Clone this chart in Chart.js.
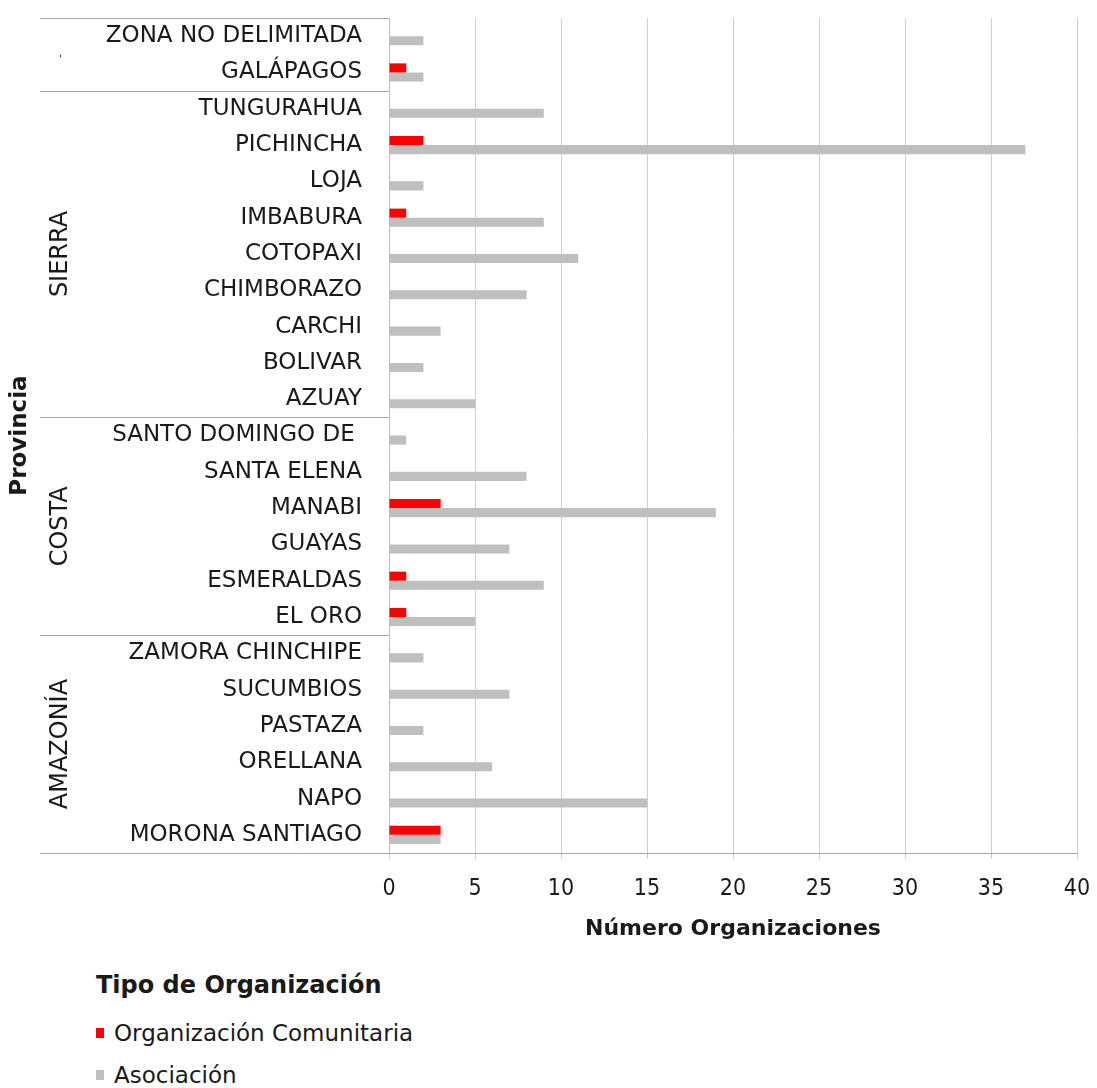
<!DOCTYPE html>
<html>
<head>
<meta charset="utf-8">
<script src="https://cdn.jsdelivr.net/npm/chart.js@4.4.1/dist/chart.umd.min.js"></script>
<style>
  html, body { margin: 0; padding: 0; background: #fff; }
  body { width: 1097px; height: 1088px; position: relative; overflow: hidden;
         font-family: "DejaVu Sans", sans-serif; color: #1a1a1a; }
  #wrap { position: absolute; left: 0; top: 0; width: 1097px; height: 953px; }
  #legend { position: absolute; left: 96px; top: 967px; }
  #legend .title { font-weight: bold; font-size: 24px; line-height: 36px; margin-bottom: 16px; }
  #legend .item { font-size: 23px; line-height: 28px; margin-bottom: 14px; display: flex; align-items: center; }
  #legend .sw { width: 8px; height: 10px; display: inline-block; margin-right: 10px; }
</style>
</head>
<body>
<div id="wrap"><canvas id="c" width="1097" height="953"></canvas></div>
<div id="legend"></div>
<script>
const categories = ["ZONA NO DELIMITADA","GALÁPAGOS","TUNGURAHUA","PICHINCHA","LOJA","IMBABURA","COTOPAXI","CHIMBORAZO","CARCHI","BOLIVAR","AZUAY","SANTO DOMINGO DE ","SANTA ELENA","MANABI","GUAYAS","ESMERALDAS","EL ORO","ZAMORA CHINCHIPE","SUCUMBIOS","PASTAZA","ORELLANA","NAPO","MORONA SANTIAGO"];
const comunitaria = [0,1,0,2,0,1,0,0,0,0,0,0,0,3,0,1,1,0,0,0,0,0,3];
const asociacion  = [2,2,9,37,2,9,11,8,3,2,5,1,8,19,7,9,5,2,7,2,6,15,3];
const groupNames = ["-","SIERRA","COSTA","AMAZONÍA"];
const groupSizes = [2,9,6,6];
const seriesNames = ["Organización Comunitaria","Asociación"];
const seriesColors = ["#ff0000","#bfbfbf"];
const xTicks = [0,5,10,15,20,25,30,35,40];

const FONT = '"DejaVu Sans", sans-serif';
const FONT_C = '"DejaVu Sans Condensed", "DejaVu Sans", sans-serif';

const groupPlugin = {
  id: 'groups',
  afterDraw(chart) {
    const ctx = chart.ctx;
    const y = chart.scales.y;
    const area = chart.chartArea;
    const lineLeft = 40;
    const half = (y.getPixelForValue(1) - y.getPixelForValue(0)) / 2;
    ctx.save();
    ctx.strokeStyle = '#a6a6a6';
    ctx.lineWidth = 1;
    let idx = 0;
    const bounds = [y.getPixelForValue(0) - half];
    for (const n of groupSizes) { idx += n; bounds.push(y.getPixelForValue(idx - 1) + half); }
    bounds.forEach((b, i) => {
      ctx.beginPath();
      ctx.moveTo(lineLeft, Math.round(b) + 0.5);
      ctx.lineTo(i === bounds.length - 1 ? area.right : area.left, Math.round(b) + 0.5);
      ctx.stroke();
    });
    ctx.fillStyle = '#1a1a1a';
    ctx.textAlign = 'center';
    ctx.textBaseline = 'middle';
    groupNames.forEach((g, i) => {
      const cy = (bounds[i] + bounds[i + 1]) / 2;
      ctx.save();
      ctx.translate(i === 0 ? 60 : 61, i === 0 ? bounds[0] + 38 : cy);
      ctx.rotate(-Math.PI / 2);
      ctx.font = (i === 0 ? '10px ' : '24px ') + FONT;
      ctx.fillText(g, 0, 0);
      ctx.restore();
    });
    ctx.restore();
  }
};

new Chart(document.getElementById('c'), {
  type: 'bar',
  data: {
    labels: categories,
    datasets: [
      { label: seriesNames[0], data: comunitaria, backgroundColor: seriesColors[0] },
      { label: seriesNames[1], data: asociacion, backgroundColor: seriesColors[1] }
    ]
  },
  options: {
    indexAxis: 'y',
    responsive: false,
    animation: false,
    devicePixelRatio: 1,
    categoryPercentage: 0.5,
    barPercentage: 1.0,
    layout: { padding: { top: 18, right: 20, left: 0, bottom: 0 } },
    plugins: { legend: { display: false }, tooltip: { enabled: false } },
    scales: {
      x: {
        min: 0, max: 40,
        afterFit(s) { s.height = 100; s.paddingLeft = 0; s.paddingRight = 0; },
        afterBuildTicks(s) { s.ticks = xTicks.map(v => ({ value: v })); },
        grid: { color: '#cfcfcf', tickLength: 6 },
        border: { color: '#a6a6a6' },
        ticks: { font: { family: FONT_C, size: 23 }, color: '#1a1a1a', padding: 16, maxRotation: 0 },
        title: { display: true, text: 'Número Organizaciones', font: { family: FONT, size: 22, weight: 'bold' }, color: '#1a1a1a', padding: { top: 0, bottom: 11 } }
      },
      y: {
        afterFit(s) { s.width = 389; s.paddingTop = 0; s.paddingBottom = 0; },
        grid: { display: false, drawTicks: false },
        border: { display: true, color: '#bdbdbd' },
        ticks: { font: { family: FONT, size: 23 }, color: '#1a1a1a', padding: 27, autoSkip: false },
        title: { display: true, text: 'Provincia', font: { family: FONT, size: 23, weight: 'bold' }, color: '#1a1a1a', padding: { top: 6, bottom: 0 } }
      }
    }
  },
  plugins: [groupPlugin]
});

const leg = document.getElementById('legend');
const t = document.createElement('div'); t.className = 'title'; t.textContent = 'Tipo de Organización'; leg.appendChild(t);
seriesNames.forEach((n, i) => {
  const d = document.createElement('div'); d.className = 'item';
  const s = document.createElement('span'); s.className = 'sw'; s.style.background = seriesColors[i];
  d.appendChild(s); d.appendChild(document.createTextNode(n)); leg.appendChild(d);
});
</script>
</body>
</html>
